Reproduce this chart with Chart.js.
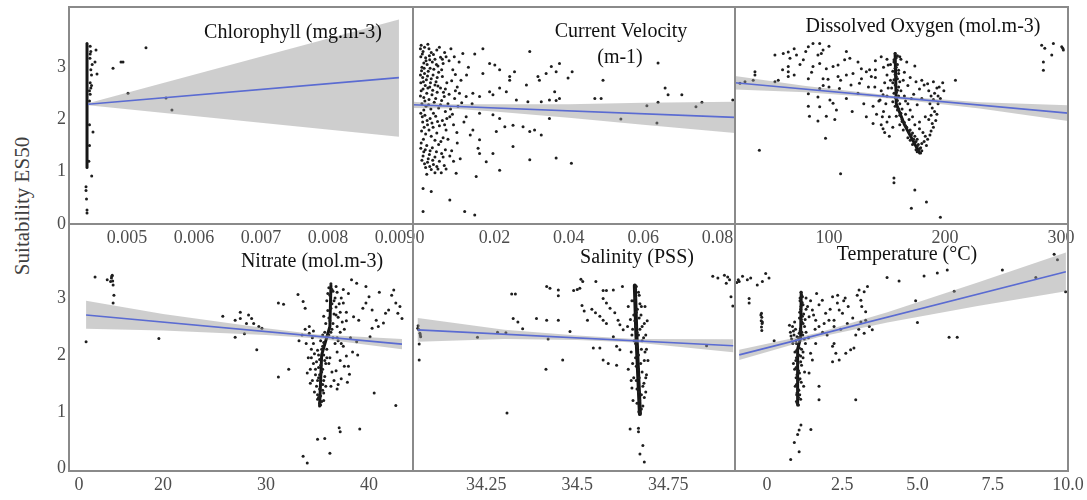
<!DOCTYPE html>
<html><head><meta charset="utf-8">
<script src="https://cdn.jsdelivr.net/npm/chart.js@4.4.1/dist/chart.umd.min.js"></script>
<style>
html,body{margin:0;padding:0;background:#fff;}
body{width:1087px;height:500px;position:relative;overflow:hidden;font-family:'Liberation Serif','Times New Roman',serif;}
canvas{position:absolute;}
#ylab{position:absolute;left:22px;top:206px;transform:translate(-50%,-50%) rotate(-90deg);font-size:21px;color:#404040;white-space:nowrap;}
</style></head><body>
<div id="ylab">Suitability ES50</div>
<script>
// ---------- tick labels ----------
const yTicks = [0, 1, 2, 3];
const chlTicks = [0.005, 0.006, 0.007, 0.008, 0.009];
const chlTickLabels = ['0.005', '0.006', '0.007', '0.008', '0.009'];
const velTicks = [0, 0.02, 0.04, 0.06, 0.08];
const velTickLabels = ['0', '0.02', '0.04', '0.06', '0.08'];
const doTicks = [100, 200, 300];
const doTickLabels = ['100', '200', '300'];
const nitTicks = [0, 20, 30, 40];
const nitTickLabels = ['0', '20', '30', '40'];
const salTicks = [34.25, 34.5, 34.75];
const salTickLabels = ['34.25', '34.5', '34.75'];
const tmpTicks = [0, 2.5, 5, 7.5, 10];
const tmpTickLabels = ['0', '2.5', '5.0', '7.5', '10.0'];

// ---------- Chlorophyll ----------
const chlPts = [[0.004388,0.71],[0.004388,0.64],[0.004395,0.48],[0.004403,0.27],[0.004403,0.21],[0.004473,0.92],
[0.004537,3.33],[0.004522,3.10],[0.004552,2.87],[0.004447,3.17],[0.004492,1.76],[0.004791,2.98],[0.004910,3.10],[0.004940,3.10],
[0.005015,2.50],[0.005283,3.37],[0.005582,2.41],[0.005671,2.18],
[0.00445,3.25],[0.00446,2.95],[0.00447,2.85],[0.00445,2.70],[0.00446,2.60],[0.00444,2.55],[0.00448,3.05],[0.00444,2.35],
[0.00447,2.65],[0.00445,3.40],[0.00446,3.30],[0.00445,2.48],[0.00444,1.9],[0.00444,1.5],[0.00443,1.2]];
const chlCore = [[0.004403,1.08],[0.004403,3.45]];
const chlLine = [[0.004418,2.29],[0.009059,2.80]];
const chlBand = [[0.004418,2.31],[0.009059,3.91],[0.009059,1.67],[0.004418,2.27]];

// ---------- Current velocity ----------
const velPts = [[0.0003,3.42],[0.0012,3.38],[0.0021,3.44],[0.0008,3.30],[0.0030,3.28],[0.0045,3.33],[0.0002,3.20],[0.0015,3.18],
[0.0025,3.22],[0.0040,3.15],[0.0055,3.19],[0.0066,3.28],[0.0010,3.08],[0.0019,3.05],[0.0033,3.10],[0.0048,3.02],[0.0062,3.07],
[0.0078,3.12],[0.0005,3.00],[0.0027,2.98],[0.0004,2.93],[0.0012,2.88],[0.0022,2.92],[0.0035,2.85],[0.0050,2.90],[0.0007,2.80],
[0.0017,2.76],[0.0030,2.78],[0.0043,2.72],[0.0060,2.82],[0.0072,2.70],[0.0002,2.70],[0.0014,2.65],[0.0026,2.62],[0.0040,2.66],
[0.0055,2.60],[0.0085,2.74],[0.0095,2.86],[0.0008,2.58],[0.0003,2.55],[0.0018,2.50],[0.0032,2.47],[0.0046,2.52],[0.0065,2.44],
[0.0010,2.42],[0.0024,2.38],[0.0038,2.33],[0.0058,2.36],[0.0075,2.30],[0.0005,2.30],[0.0016,2.25],[0.0029,2.20],[0.0050,2.22],
[0.0068,2.15],[0.0002,2.12],[0.0013,2.08],[0.0027,2.02],[0.0042,2.06],[0.0060,1.98],[0.0080,2.05],[0.0007,1.95],[0.0020,1.90],
[0.0035,1.85],[0.0052,1.88],[0.0070,1.80],[0.0004,1.78],[0.0015,1.72],[0.0030,1.68],[0.0045,1.74],[0.0062,1.65],[0.0009,1.62],
[0.0003,1.55],[0.0018,1.50],[0.0033,1.46],[0.0050,1.52],[0.0068,1.42],[0.0010,1.38],[0.0025,1.33],[0.0040,1.28],[0.0058,1.35],
[0.0080,1.30],[0.0005,1.22],[0.0020,1.18],[0.0036,1.14],[0.0052,1.20],[0.0015,1.08],[0.0030,1.04],[0.0045,1.10],[0.0065,1.12],
[0.0090,1.20],[0.0088,2.95],[0.0095,2.55],[0.0102,2.25],[0.0090,1.90],[0.0100,1.55],[0.0110,2.75],[0.0085,1.40],[0.0105,3.10],
[0.0001,3.35],[0.0006,3.25],[0.0016,3.12],[0.0024,3.35],[0.0036,3.24],[0.0052,3.38],[0.0070,3.20],[0.0011,2.98],[0.0020,2.83],
[0.0028,2.70],[0.0037,2.96],[0.0046,2.80],[0.0058,2.95],[0.0068,2.58],[0.0001,2.85],[0.0009,2.72],[0.0021,2.60],[0.0034,2.56],
[0.0048,2.64],[0.0063,2.52],[0.0078,2.48],[0.0001,2.45],[0.0013,2.35],[0.0023,2.28],[0.0042,2.40],[0.0055,2.28],[0.0082,2.20],
[0.0006,2.05],[0.0019,1.98],[0.0032,1.93],[0.0047,1.96],[0.0066,1.90],[0.0011,1.85],[0.0024,1.80],[0.0040,1.60],[0.0056,1.58],
[0.0075,1.62],[0.0002,1.45],[0.0014,1.42],[0.0027,1.40],[0.0044,1.38],[0.0062,1.28],[0.0008,1.30],[0.0022,1.25],[0.0034,1.22],
[0.0048,1.05],[0.0070,1.05],[0.0012,1.15],[0.0026,1.10],[0.0040,0.98],[0.0057,0.98],[0.0018,0.95],[0.0010,2.18],[0.0036,2.12],
[0.0072,2.02],[0.0044,3.05],[0.0060,3.15],[0.0026,3.14],[0.0100,2.62],[0.0112,2.32],[0.0118,1.95],[0.0125,2.85],[0.0130,3.00],
[0.0135,1.70],[0.0108,1.25],[0.0140,2.30],[0.0093,2.40],[0.0087,2.10],[0.0099,1.75],[0.0092,3.20],[0.0083,3.35],
[0.0115,3.26],[0.0147,3.25],[0.0169,3.35],[0.0295,3.30],[0.0187,3.07],[0.0201,3.04],[0.0214,2.95],[0.0169,2.88],[0.0241,2.82],
[0.0241,2.75],[0.0254,2.91],[0.0317,2.82],[0.0321,2.75],[0.0353,3.01],[0.0375,3.07],[0.0339,2.88],[0.0366,2.91],[0.0409,2.91],
[0.0398,2.79],[0.0286,2.66],[0.0214,2.60],[0.0187,2.53],[0.0160,2.44],[0.0142,2.50],[0.0196,2.47],[0.0232,2.53],[0.0259,2.37],
[0.0290,2.34],[0.0326,2.34],[0.0348,2.37],[0.0366,2.36],[0.0375,2.40],[0.0362,2.53],[0.0124,2.44],[0.0106,2.50],[0.0124,2.05],
[0.0160,2.12],[0.0196,2.09],[0.0214,2.02],[0.0228,1.86],[0.0250,1.89],[0.0277,1.86],[0.0295,1.77],[0.0308,1.80],[0.0326,1.70],
[0.0348,2.02],[0.0250,1.48],[0.0205,1.77],[0.0160,1.61],[0.0156,1.45],[0.0142,1.80],[0.0160,1.35],[0.0196,1.35],[0.0295,1.23],
[0.0366,1.26],[0.0407,1.16],[0.0178,1.19],[0.0214,1.03],[0.0151,0.91],[0.0097,0.97],[0.0008,0.68],[0.0030,0.62],[0.0080,0.46],
[0.0008,0.24],[0.0120,0.24],[0.0147,0.17],[0.0492,2.75],[0.0470,2.40],[0.0487,2.40],[0.0540,2.01],[0.0610,2.26],[0.0637,1.93],
[0.0640,2.33],[0.0659,2.60],[0.0667,2.47],[0.0704,2.47],[0.0742,2.24],[0.0758,2.33],[0.0841,2.37],[0.0640,3.08]];
const velLine = [[-0.0019,2.28],[0.0847,2.04]];
const velBand = [[-0.0019,2.34],[0.008,2.29],[0.02,2.29],[0.04,2.29],[0.06,2.32],[0.0847,2.34],
[0.0847,1.74],[0.06,1.90],[0.04,2.03],[0.02,2.15],[0.008,2.21],[-0.0019,2.22]];

// ---------- Dissolved oxygen ----------
const doPts = [[23.3,2.69],[27.6,2.72],[34.7,2.75],[36.2,2.91],[36.2,2.85],[53.4,2.72],[56.3,2.75],
[53.4,3.23],[60.6,3.26],[64.9,3.29],[66.4,3.17],[64.9,3.01],[64.9,2.91],[64.9,2.82],[72,3.23],[77.9,3.14],[82.2,3.39],[86.2,3.45],
[92,3.45],[90.5,3.23],[93.4,3.26],[94.9,3.33],[92,3.07],[97.7,2.97],[86.2,3.01],[82.2,2.78],[94.9,2.78],[99.2,2.77],[103.5,3.01],
[107.8,3.04],[113.5,3.14],[118,3.17],[107.8,2.82],[115,2.85],[120.7,2.88],[127.9,2.97],[132.2,2.91],[136.5,2.82],[126.3,2.69],
[119,2.66],[109,2.59],[100,2.62],[92,2.59],[82.2,2.49],[90.5,2.43],[100.8,2.37],[82.2,2.25],[92,2.24],[103.5,2.31],[106.4,2.18],
[83.2,2.06],[90.5,1.97],[97.7,2.06],[132.2,2.05],[138,1.92],[146.6,1.82],[144,2.37],[139.5,2.62],[146.6,2.47],[151,3.04],
[60,2.95],[70,2.85],[75,3.05],[85,2.90],[95,2.65],[110,2.75],[115,2.40],[125,2.50],[130,2.30],[120,2.15],[105,2.00],[125,3.10],
[115,3.30],[100,3.40],[80,3.30],[70,3.35],[128,2.78],[140,2.95],[145,3.2],
[157,3.26],[158,3.18],[156,3.10],[159,3.05],[157,2.98],[155,2.92],[160,2.88],[158,2.82],[156,2.76],[161,2.72],[157,2.66],[154,2.60],
[159,2.56],[156,2.50],[160,2.45],[158,2.40],[155,2.34],[161,2.30],[157,2.25],[159,2.18],[162,2.12],[158,2.06],[163,2.00],[165,1.94],
[161,1.90],[167,1.85],[164,1.80],[169,1.76],[171,1.70],[168,1.65],[173,1.62],[175,1.58],[172,1.52],[176,1.48],[178,1.44],[177,1.40],
[179,1.36],[175,1.42],[174,1.55],[170,1.60],
[159,3.22],[156,3.14],[158,3.0],[160,2.94],[157,2.86],[159,2.78],[155,2.70],[160,2.62],[158,2.52],[157,2.42],[159,2.36],[160,2.20],
[161,2.08],[163,1.96],[166,1.88],[170,1.80],[172,1.74],[174,1.68],[176,1.62],[177,1.52],[179,1.46],[180,1.40],[176,1.38],[163,2.20],
[166,2.10],[169,2.00],[174,1.90],[178,1.82],[181,1.75],[183,1.68],[182,1.58],[184,1.50],[180,1.54],[153,2.75],[151,2.60],[149,2.30],
[146,2.05],[162,2.55],[164,2.75],[165,2.45],[168,2.30],[171,2.40],[150,3.15],[161,3.2],[194,2.30],[193,2.10],[192,1.98],[194,2.45],
[135,2.95],[140,2.80],[148,2.70],[145,2.55],[150,2.45],[143,2.35],[138,2.25],[147,2.15],[152,2.05],[141,2.10],[150,1.95],[155,1.85],
[148,1.75],[152,1.68],[145,1.90],[150,2.85],[153,3.05],[140,3.12],[147,3.0],[134,2.62],
[186,2.55],[188,2.45],[190,2.38],[187,2.30],[189,2.22],[191,2.15],[188,2.08],[186,2.00],[189,1.92],[190,1.85],[188,1.78],[187,1.70],
[185,1.62],[191,2.50],[193,2.60],
[165,2.9],[170,2.8],[175,2.72],[168,2.65],[178,2.58],[182,2.66],[173,2.48],[180,2.40],[166,2.35],[176,2.28],[170,2.18],[183,2.05],
[178,1.95],[172,2.05],[195,2.62],[199,2.55],[196,2.40],[198,2.70],[180,2.75],[185,2.68],[190,2.72],[174,3.02],[167,3.10],[162,3.15],
[40,1.41],[97,1.64],[110,0.96],[156,0.88],[156,0.79],[174,0.65],[184,0.42],[171,0.30],[196,0.13],[209,2.75],
[283.3,3.42],[293.4,3.45],[300.6,3.39],[302,3.33],[301.5,3.36],[284.8,3.10],[284.8,2.94],[292,3.23],[286,3.36]];
const doCore = [[157,3.26],[158,2.30],[165,1.90],[178,1.36]];
const doLine = [[19,2.70],[306,2.12]];
const doBand = [[19,2.83],[80,2.64],[155,2.455],[230,2.33],[306,2.27],[306,1.97],[230,2.21],[155,2.395],[80,2.52],[19,2.57]];

// ---------- Nitrate ----------
const nitPts = [[1.67,2.23],[3.8,3.37],[6.7,3.32],[7.5,3.29],[7.9,3.40],[7.7,3.35],[8.1,3.23],[8.3,3.05],[8.1,2.91],[7.8,3.38],[8.0,3.30],
[19.0,2.29],[25.8,2.68],[27.0,2.61],[27.5,2.64],[28.3,2.70],[28.6,2.64],[29.3,2.50],[28.8,2.55],[29.6,2.47],[27.5,2.75],[28.1,2.55],
[27.0,2.31],[27.9,2.37],[29.1,2.09],[31.2,2.91],[31.7,2.89],[31.2,1.61],[32.2,1.75],[33.1,3.06],[33.6,2.94],[33.8,2.82],
[33.6,0.22],[34.0,0.10],[35.0,0.52],[35.7,0.53],[36.2,0.27],[37.1,0.72],[37.2,0.65],[39.1,0.70],[40.5,1.33],[42.6,1.11],[38.9,2.00],
[40.1,2.32],[38.8,2.23],
[38.3,3.32],[38.8,3.26],[39.7,3.20],[40.0,3.02],[39.7,2.91],[40.3,2.79],[40.7,2.61],[41.4,2.56],[41.6,2.73],[41.9,2.79],[42.4,3.14],
[42.6,2.91],[42.8,2.73],[43.2,2.64],[38.0,3.08],[37.5,2.91],[38.5,2.67],[39.0,2.61],[40.3,2.47],[40.9,2.50],[42.2,3.05],[43.0,2.85],
[41.0,3.10],[39.4,2.82],[37.8,2.75],
[33.8,2.45],[34.2,2.38],[34.5,2.30],[33.9,2.20],[34.4,2.10],[34.7,2.02],[34.1,1.95],[34.6,1.85],[34.3,1.75],[34.8,1.65],[34.5,1.55],
[34.9,1.45],[34.2,2.5],[34.6,2.42],[34.0,1.68],
[37.0,2.25],[37.5,2.15],[36.9,2.05],[37.8,1.98],[37.2,1.90],[37.6,1.80],[36.8,1.72],[38.1,1.66],[37.3,1.58],[37.0,1.48],[37.9,1.52],
[36.9,1.40],[38.2,2.30],
[36.3,3.25],[36.1,3.18],[36.5,3.12],[36.2,3.05],[36.7,3.00],[35.9,2.95],[36.4,2.90],[36.8,2.84],[36.0,2.78],[36.6,2.72],[37.0,2.66],
[36.2,2.60],[35.8,2.55],[36.9,2.50],[36.4,2.45],[37.2,2.40],[36.1,2.35],[35.7,2.40],[37.1,2.90],[36.9,3.10],[35.6,2.68],[37.4,2.58],
[37.3,3.00],[35.5,2.35],
[35.3,2.25],[35.5,2.15],[35.0,2.08],[35.6,2.00],[35.2,1.92],[35.8,1.85],[35.1,1.78],[35.4,1.70],[35.7,1.62],[35.0,1.55],[35.5,1.48],
[35.2,1.40],[35.6,1.33],[35.1,1.25],[35.4,1.18],[35.3,1.12],[35.8,1.45],[35.9,1.95],[34.9,1.88],[35.0,1.30],
[36.4,3.15],[36.0,3.08],[36.6,2.95],[36.3,2.82],[36.8,2.70],[36.1,2.65],[36.5,2.55],[36.3,2.40],[35.9,2.30],[36.7,2.20],[35.6,2.22],
[35.4,2.10],[35.1,2.00],[35.7,1.90],[35.3,1.82],[35.5,1.75],[35.2,1.65],[35.6,1.55],[35.3,1.50],[35.1,1.60],[35.5,1.38],[35.3,1.28],
[35.6,1.20],[35.2,1.15],[35.0,1.22],[35.9,2.10],[36.5,2.30],[36.9,2.30],[37.3,2.20],[37.6,2.45],[37.8,2.60],[37.2,2.75],[37.5,3.15],
[36.8,3.20],[34.6,2.20],[34.4,1.95],[34.8,1.75],[36.2,1.95],[36.4,1.70],[36.6,1.55],[36.1,1.85],[36.3,1.45],[38.0,1.80],[38.4,2.05],
[34.3,1.50],[34.7,1.35],[33.5,2.35],[33.2,2.25]];
const nitCore = [[36.3,3.22],[36.2,2.5],[35.4,2.0],[35.2,1.10]];
const nitLine = [[1.67,2.70],[43.2,2.19]];
const nitBand = [[1.67,2.95],[20,2.72],[30,2.47],[35,2.36],[43.2,2.28],[43.2,2.10],[35,2.29],[30,2.35],[20,2.43],[1.67,2.46]];

// ---------- Salinity ----------
const salPts = [[34.063,2.51],[34.065,2.44],[34.068,2.38],[34.070,2.32],[34.066,2.19],[34.066,1.91],[34.062,2.47],[34.069,2.35],
[34.226,2.31],[34.281,2.40],[34.304,2.39],[34.307,0.98],[34.324,2.64],[34.337,2.58],[34.35,2.46],[34.32,3.07],[34.33,3.07],
[34.388,2.64],[34.416,2.61],[34.448,2.61],[34.416,3.20],[34.425,3.17],[34.448,3.14],[34.448,3.04],[34.414,1.75],[34.46,1.91],
[34.42,2.28],[34.48,2.41],[34.49,3.13],[34.50,3.15],[34.507,3.17],[34.51,3.33],[34.515,3.29],[34.551,3.29],[34.513,2.87],[34.519,2.77],
[34.528,2.61],[34.54,2.80],[34.55,2.74],[34.562,2.68],[34.571,2.61],[34.58,2.55],[34.571,3.13],[34.58,3.13],[34.599,3.14],[34.624,3.20],
[34.571,2.99],[34.58,2.91],[34.59,2.82],[34.603,2.74],[34.612,2.61],[34.617,2.53],[34.626,2.44],[34.599,2.32],[34.608,2.15],
[34.617,2.09],[34.571,1.91],[34.585,1.85],[34.608,1.82],[34.562,2.12],[34.544,2.12],
[34.645,0.70],[34.668,0.71],[34.668,0.65],[34.68,0.41],[34.672,0.26],[34.684,0.12],[34.655,1.60],[34.650,1.42],
[34.855,2.16],[34.872,3.38],[34.886,3.35],[34.904,3.40],[34.913,3.37],[34.918,3.32],[34.909,3.26],[34.922,3.02],[34.927,2.86],
[34.662,3.20],[34.668,3.10],[34.660,3.00],[34.672,2.90],[34.665,2.80],[34.675,2.70],[34.658,2.60],[34.678,2.50],[34.664,2.40],
[34.682,2.30],[34.660,2.20],[34.676,2.10],[34.668,2.00],[34.684,1.90],[34.662,1.80],[34.678,1.70],[34.670,1.60],[34.683,1.50],
[34.664,1.40],[34.676,1.30],[34.671,1.20],[34.680,1.10],[34.669,1.00],[34.652,2.45],[34.655,2.70],[34.688,2.35],[34.690,1.65],
[34.652,1.85],[34.650,2.95],[34.686,2.85],[34.656,2.25],[34.648,1.55],
[34.660,3.15],[34.670,3.05],[34.656,2.95],[34.676,2.85],[34.662,2.75],[34.670,2.65],[34.684,2.55],[34.660,2.50],[34.672,2.45],
[34.668,2.35],[34.678,2.25],[34.664,2.15],[34.686,2.05],[34.660,1.95],[34.674,1.85],[34.668,1.75],[34.688,1.60],[34.662,1.55],
[34.680,1.45],[34.668,1.35],[34.684,1.25],[34.664,1.15],[34.676,1.05],[34.672,0.98],[34.648,2.05],[34.650,2.35],[34.646,2.62],
[34.690,2.10],[34.692,2.60],[34.688,1.35],[34.653,1.20],[34.640,1.75],[34.638,2.50],[34.640,2.85],[34.694,1.90]];
const salCore = [[34.658,3.22],[34.662,2.4],[34.672,0.96]];
const salLine = [[34.062,2.44],[34.928,2.16]];
const salBand = [[34.062,2.65],[34.3,2.44],[34.5,2.34],[34.66,2.28],[34.928,2.275],[34.928,2.045],[34.66,2.22],[34.5,2.26],[34.3,2.28],[34.062,2.23]];

// ---------- Temperature ----------
const tmpPts = [[-0.92,3.29],[-0.65,3.32],[-0.54,3.35],[-0.32,3.23],[-0.15,3.29],[-0.04,3.43],[0.07,3.35],[-0.59,2.99],[-0.59,2.91],
[-0.81,3.38],[-0.95,3.32],[-1.0,3.27],
[-0.18,2.73],[-0.17,2.66],[-0.19,2.60],[-0.16,2.55],[-0.18,2.49],[-0.17,2.43],[-0.20,2.70],[-0.15,2.58],[0.24,2.25],
[1.13,0.77],[1.07,0.68],[1.02,0.60],[0.91,0.46],[1.07,0.30],[0.79,0.16],[1.46,0.69],
[1.40,2.67],[1.51,2.79],[1.73,2.88],[1.62,2.61],[1.84,2.96],[1.95,2.73],[2.06,2.61],[1.73,2.50],[2.18,3.02],[2.34,2.91],[2.40,2.79],
[2.23,2.61],[2.51,2.73],[2.67,2.55],[2.23,2.50],[2.23,2.20],[2.29,2.03],[2.40,1.91],[2.18,1.88],[2.62,2.03],[2.78,2.09],[2.89,2.12],
[2.18,2.15],[1.62,2.20],[1.45,2.03],[1.51,1.91],[1.40,1.68],[1.73,1.45],[1.73,1.21],[3.06,3.14],[3.00,3.05],[3.23,3.11],[3.12,2.96],
[3.34,3.20],[3.28,2.76],[3.12,2.58],[3.28,2.61],[3.50,2.44],[3.23,2.38],[2.95,1.21],
[1.30,3.00],[1.35,2.85],[1.45,2.95],[1.55,2.70],[1.60,2.45],[1.85,2.40],[1.90,2.55],[2.00,2.35],[1.30,2.40],[1.38,2.30],[2.10,2.80],
[2.45,2.45],[2.55,2.95],[2.70,2.85],[2.85,2.65],[2.95,2.35],[3.05,2.45],[3.40,2.50],[3.15,2.85],[2.60,3.00],[2.35,3.05],[1.65,3.08],
[3.99,3.36],[4.39,3.30],[5.22,3.385],[5.66,3.44],[5.99,3.49],[6.22,3.12],[4.94,2.95],[5.00,2.57],[6.05,2.31],[6.32,2.31],[7.82,3.49],
[8.93,3.36],[9.54,3.77],[9.65,3.67],[9.92,3.11],
[1.13,3.10],[1.18,3.02],[1.10,2.95],[1.20,2.88],[1.12,2.80],[1.22,2.72],[1.08,2.65],[1.16,2.58],[1.25,2.50],[1.10,2.42],[1.19,2.35],
[1.05,2.30],[0.95,2.45],[0.85,2.50],[0.78,2.40],[0.90,2.35],[0.82,2.28],[0.75,2.52],[0.98,2.20],[1.08,2.12],[0.93,2.05],[1.12,1.98],
[0.96,1.90],[1.15,1.82],[0.92,1.75],[1.08,1.68],[0.97,1.60],[1.14,1.52],[0.94,1.45],[1.06,1.38],[0.99,1.30],[1.12,1.22],[1.01,1.15],
[1.05,1.12],[1.20,1.95],[1.25,1.70],[1.28,2.20],[0.88,1.85],
[1.15,3.05],[1.10,3.00],[1.17,2.92],[1.13,2.85],[1.09,2.75],[1.18,2.68],[1.14,2.62],[1.20,2.55],[1.11,2.46],[1.16,2.40],[1.07,2.38],
[1.00,2.32],[0.96,2.25],[1.04,2.18],[0.99,2.08],[1.06,2.00],[0.98,1.95],[1.03,1.85],[0.97,1.78],[1.05,1.72],[1.00,1.65],[1.04,1.55],
[0.98,1.48],[1.03,1.40],[1.00,1.33],[1.05,1.25],[0.98,1.18],[1.09,1.30],[1.10,1.58],[1.12,1.88],[1.15,2.10],[1.24,2.28],[1.27,2.62],
[1.30,2.80],[0.88,2.42],[0.80,2.33],[0.86,2.20],[0.92,2.58],[1.22,1.45],[1.20,2.05]];
const tmpCore = [[1.14,3.10],[1.12,2.30],[1.02,2.10],[1.02,1.12]];
const tmpLine = [[-0.92,2.00],[9.93,3.46]];
const tmpBand = [[-0.92,2.09],[1.7,2.39],[4,2.75],[7,3.27],[9.93,3.80],[9.93,3.12],[7,2.86],[4,2.57],[1.7,2.31],[-0.92,1.91]];

// ---------- nitrate axis: compressed below 20 ----------
function nitFwd(v) { return v >= 20 ? v : 20 - (20 - v) * 0.4078; }

// ---------- layout ----------
const FONT = "'Liberation Serif','Times New Roman',serif";
const padL = 60, padR = 19, padT = 16, axisH = 30;

const panels = [
  {rect:[69,7,413,224], xr:[0.004134,0.009269], yr:[0,4.15], ticks:chlTicks, labels:chlTickLabels, showY:true,
   pts:chlPts, core:chlCore, coreW:3, line:chlLine, band:chlBand, titles:[['Chlorophyll (mg.m-3)',293,33]]},
  {rect:[413,7,735,224], xr:[-0.0019,0.0847], yr:[0,4.15], ticks:velTicks, labels:velTickLabels, showY:false,
   pts:velPts, core:null, coreW:0, line:velLine, band:velBand, titles:[['Current Velocity',621,32],['(m-1)',620,58]]},
  {rect:[735,7,1068,224], xr:[19,306], yr:[0,4.15], ticks:doTicks, labels:doTickLabels, showY:false,
   pts:doPts, core:doCore, coreW:3, line:doLine, band:doBand, titles:[['Dissolved Oxygen (mol.m-3)',923,27]]},
  {rect:[69,224,413,471], xr:[nitFwd(-2.4),44.27], yr:[-0.04,4.3], ticks:nitTicks, labels:nitTickLabels, showY:true,
   pts:nitPts, core:nitCore, coreW:3, line:nitLine, band:nitBand, titles:[['Nitrate (mol.m-3)',312,262]], piecewise:true},
  {rect:[413,224,735,471], xr:[34.049,34.933], yr:[-0.04,4.3], ticks:salTicks, labels:salTickLabels, showY:false,
   pts:salPts, core:salCore, coreW:4, line:salLine, band:salBand, titles:[['Salinity (PSS)',637,258]]},
  {rect:[735,224,1068,471], xr:[-1.06,10.0], yr:[-0.04,4.3], ticks:tmpTicks, labels:tmpTickLabels, showY:false,
   pts:tmpPts, core:tmpCore, coreW:3, line:tmpLine, band:tmpBand, titles:[['Temperature (\u00B0C)',907,255]]}
];

const framePlugin = {
  id: 'frame',
  afterDatasetsDraw(chart) {
    const a = chart.chartArea, c = chart.ctx;
    c.save(); c.strokeStyle = '#8a8a8a'; c.lineWidth = 2;
    c.strokeRect(a.left, a.top, a.right - a.left, a.bottom - a.top);
    c.restore();
  }
};
const titlePlugin = {
  id: 'ptitles',
  afterDraw(chart, args, opts) {
    const c = chart.ctx;
    c.save(); c.font = '20px ' + FONT; c.fillStyle = '#111'; c.textAlign = 'center'; c.textBaseline = 'middle';
    (opts.items || []).forEach(t => c.fillText(t[0], t[1] - opts.ox, t[2] - opts.oy));
    c.restore();
  }
};

panels.forEach(p => {
  const [L, T, R, B] = p.rect;
  const cx = L - padL, cy = T - padT;
  const w = R - L + padL + padR, h = B - T + padT + axisH;
  const cv = document.createElement('canvas');
  cv.width = w; cv.height = h;
  cv.style.left = cx + 'px'; cv.style.top = cy + 'px';
  cv.style.width = w + 'px'; cv.style.height = h + 'px';
  document.body.appendChild(cv);

  const datasets = [
    {data: p.line, showLine: true, borderColor: '#5a6bd2', borderWidth: 1.6, pointRadius: 0, order: 0},
    {data: p.band, showLine: true, fill: 'shape', backgroundColor: 'rgba(150,150,150,0.47)', borderColor: 'rgba(0,0,0,0)', borderWidth: 0, pointRadius: 0, order: 1},
    {data: p.pts, showLine: false, pointRadius: 1.5, pointBackgroundColor: '#1e1e1e', pointBorderWidth: 0, order: 2}
  ];
  if (p.core) datasets.push({data: p.core, showLine: true, borderColor: '#161616', borderWidth: p.coreW, pointRadius: 0, order: 3, borderCapStyle: 'round'});

  const xScale = {
    type: 'linear', min: p.xr[0], max: p.xr[1],
    grid: {display: false, drawTicks: false}, border: {display: false},
    ticks: {color: '#4d4d4d', font: {family: FONT, size: 18}, padding: 3, autoSkip: false, maxRotation: 0, minRotation: 0,
            callback: (v, i) => p.labels[i]},
    afterBuildTicks: s => { s.ticks = p.ticks.map(v => ({value: v})); },
    afterFit: s => { s.height = axisH; }
  };
  if (p.piecewise) {
    xScale.afterDataLimits = s => {
      if (!s._pw) {
        const base = Object.getPrototypeOf(s).getPixelForValue;
        s.getPixelForValue = function (v) { return base.call(this, nitFwd(v)); };
        s._pw = true;
      }
    };
  }
  new Chart(cv, {
    type: 'scatter',
    data: {datasets},
    options: {
      responsive: false, animation: false, events: [],
      layout: {autoPadding: false, padding: {left: p.showY ? 0 : padL, right: padR, top: padT, bottom: 0}},
      plugins: {legend: {display: false}, tooltip: {enabled: false},
                ptitles: {items: p.titles, ox: cx, oy: cy}},
      scales: {
        x: xScale,
        y: {type: 'linear', min: p.yr[0], max: p.yr[1], display: p.showY,
            grid: {display: false, drawTicks: false}, border: {display: false},
            ticks: {color: '#4d4d4d', font: {family: FONT, size: 18}, padding: 3, autoSkip: false,
                    callback: v => String(v)},
            afterBuildTicks: s => { s.ticks = yTicks.map(v => ({value: v})); },
            afterFit: s => { s.width = p.showY ? padL : 0; }}
      }
    },
    plugins: [framePlugin, titlePlugin]
  });
});
</script></body></html>
